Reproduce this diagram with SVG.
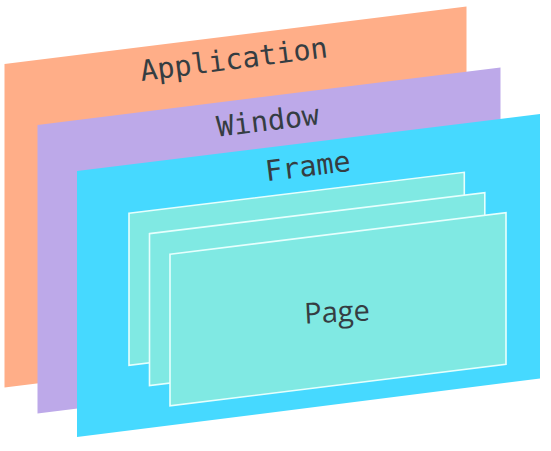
<svg xmlns="http://www.w3.org/2000/svg" width="551" height="451" viewBox="0 0 551 451">
  <style>
    .layer-label { font-family: "DejaVu Sans Mono", "Liberation Mono", monospace; font-size: 28.5px; fill: #353d42; text-anchor: middle; }
    .page-label { font-family: "Open Sans", "Noto Sans", sans-serif; font-size: 29px; fill: #353d42; text-anchor: middle; }
    .page { fill: #80E9E3; stroke: #E6FFFD; stroke-width: 1.6; stroke-linejoin: miter; }
  </style>
  <rect x="0" y="0" width="551" height="451" fill="#FFFFFF"/>
  <g id="application">
    <polygon points="4.5,64 466.5,6.5 466.5,330 4.5,387.5" fill="#FFAE88"/>
    <text class="layer-label" x="235" y="69" transform="rotate(-7.3 235 69)">Application</text>
  </g>
  <g id="window">
    <polygon points="37.5,125 500.5,67.5 500.5,356 37.5,413.5" fill="#BDA9E9"/>
    <text class="layer-label" x="269" y="130.5" transform="rotate(-7.1 269 130.5)">Window</text>
  </g>
  <g id="frame">
    <polygon points="77,171 540,114 540,378.5 77,437" fill="#46D9FF"/>
    <text class="layer-label" x="309" y="176" transform="rotate(-7 309 176)">Frame</text>
  </g>
  <g id="page1">
    <polygon class="page" points="129,213.3 464.3,172.3 464.3,324.3 129,365.3"/>
  </g>
  <g id="page2">
    <polygon class="page" points="149.5,233.6 484.8,192.6 484.8,344.6 149.5,385.6"/>
  </g>
  <g id="page3">
    <polygon class="page" points="170,254.3 506,212.7 506,364.3 170,405.9"/>
    <text class="page-label" x="337.5" y="322" transform="rotate(-3 337.5 322)">Page</text>
  </g>
</svg>
